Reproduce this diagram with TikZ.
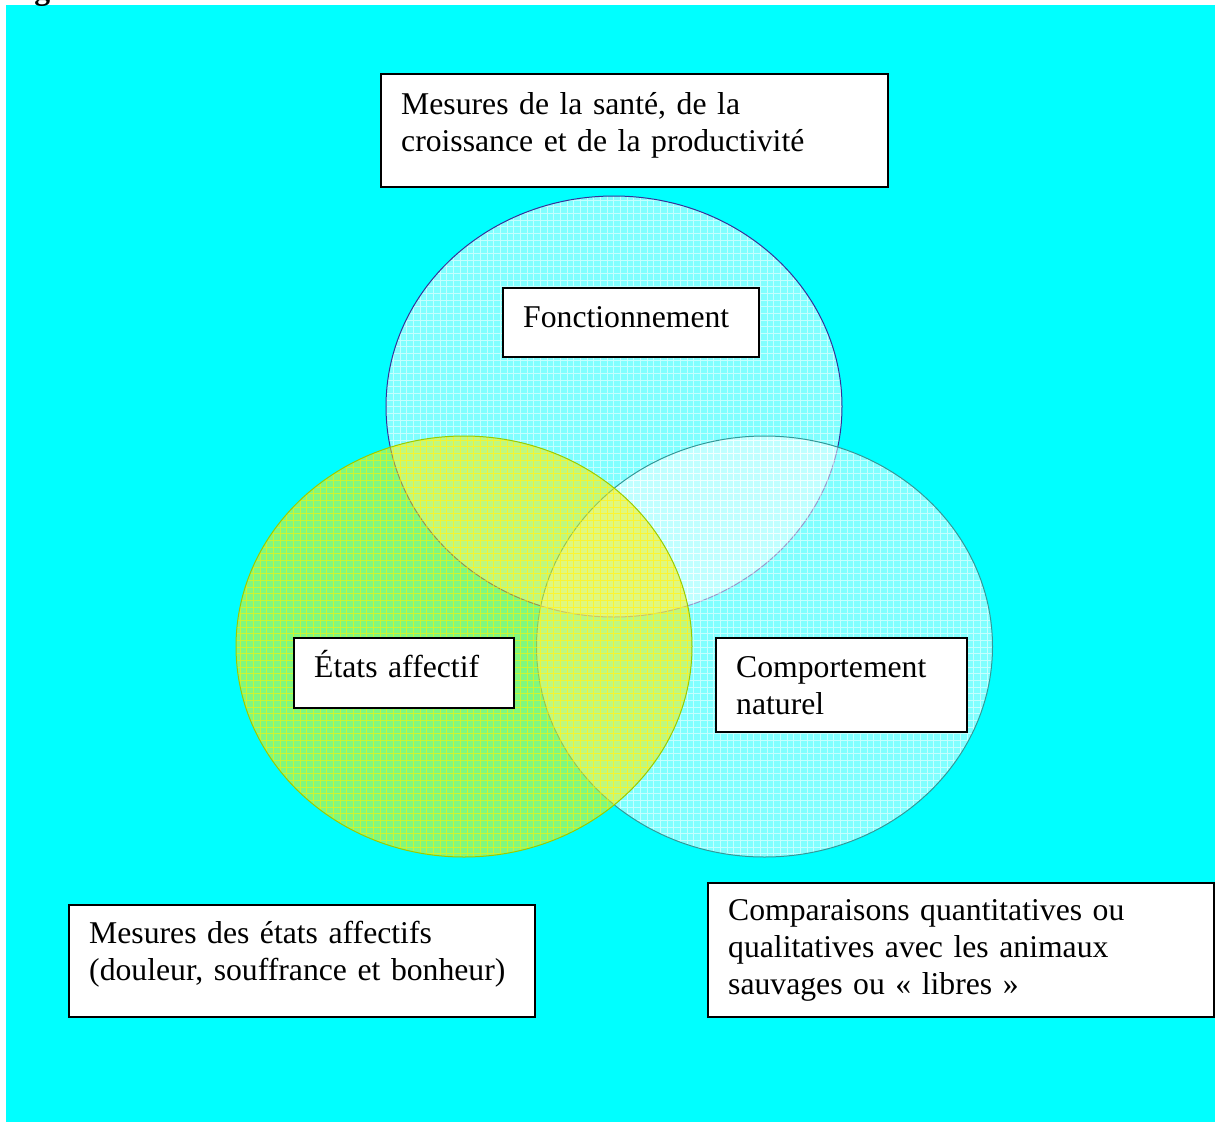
\documentclass[tikz,border=0pt]{standalone}
\usepackage{fontspec}
\setmainfont{Liberation Serif}
\definecolor{bgcyan}{RGB}{0,255,255}
\definecolor{topline}{RGB}{51,51,153}
\definecolor{rightline}{RGB}{51,153,153}
\definecolor{greenline}{RGB}{153,204,0}
\newcommand\mylblfont{\fontsize{31.7}{37}\selectfont\spaceskip=0.26em\relax}
\begin{document}
\begin{tikzpicture}[x=1pt,y=-1pt,
  lbl/.style={anchor=base west, inner sep=0pt, text width=520pt, align=left,
              font=\mylblfont},
  boxr/.style={draw=black, line width=1.8pt, fill=white, anchor=north west,
               inner sep=0pt},
  cyancirc/.style={fill=white, fill opacity=0.5},
  greencirc/.style={fill=yellow, fill opacity=0.5},
  wgrid/.style={draw=white, line width=0.8pt, opacity=0.55, xstep=6.67pt, ystep=6.67pt},
  ygrid/.style={draw=yellow, line width=0.8pt, opacity=0.6, xstep=6.67pt, ystep=6.67pt}]
\useasboundingbox (0,0) rectangle (1215,1122);
% background
\fill[bgcyan] (6,5) rectangle (1215,1122);
\begin{scope}
  \clip (0,0) rectangle (1215,1122);
  \node[anchor=base west, inner sep=0pt, font=\fontsize{31.7}{37}\selectfont\bfseries] (fig) at (6,-1) {Figure};
\end{scope}
% circle centres
\coordinate (ctop) at (614,406.5);
\coordinate (cright) at (764.5,646.5);
\coordinate (cleft) at (464,646.5);
% top circle
\fill[cyancirc] (ctop) ellipse [x radius=228pt, y radius=210.5pt];
\begin{scope}
  \clip (ctop) ellipse [x radius=228pt, y radius=210.5pt];
  \draw[wgrid] (380,625) grid (850,190);
\end{scope}
\draw[topline, line width=1pt] (ctop) ellipse [x radius=228pt, y radius=210.5pt];
% right circle
\fill[cyancirc] (cright) ellipse [x radius=228pt, y radius=210.5pt];
\begin{scope}
  \clip (cright) ellipse [x radius=228pt, y radius=210.5pt];
  \draw[wgrid] (530,865) grid (1000,430);
\end{scope}
\draw[rightline, line width=1pt] (cright) ellipse [x radius=228pt, y radius=210.5pt];
% left (green) circle
\fill[greencirc] (cleft) ellipse [x radius=228pt, y radius=210.5pt];
\begin{scope}
  \clip (cleft) ellipse [x radius=228pt, y radius=210.5pt];
  \draw[ygrid] (230,865) grid (700,430);
\end{scope}
\draw[greenline, line width=1pt] (cleft) ellipse [x radius=228pt, y radius=210.5pt];
% boxes
\node[boxr, minimum width=507pt, minimum height=113pt] (btop) at (380,73) {};
\node[lbl] (ttop) at (401,114) {Mesures de la santé, de la\\croissance et de la productivité};
\node[boxr, minimum width=256pt, minimum height=69pt] (bfonc) at (502,287) {};
\node[lbl] (tfonc) at (523,327) {Fonctionnement};
\node[boxr, minimum width=220pt, minimum height=70pt] (betat) at (293,637) {};
\node[lbl] (tetat) at (314,677) {États affectif};
\node[boxr, minimum width=251pt, minimum height=94pt] (bcomp) at (715,637) {};
\node[lbl] (tcomp) at (736,677) {Comportement\\naturel};
\node[boxr, minimum width=466pt, minimum height=112pt] (bbl) at (68,904) {};
\node[lbl] (tbl) at (89,943) {Mesures des états affectifs\\(douleur, souffrance et bonheur)};
\node[boxr, minimum width=506pt, minimum height=134pt] (bbr) at (707,882) {};
\node[lbl] (tbr) at (728,920) {Comparaisons quantitatives ou\\qualitatives avec les animaux\\sauvages ou «~libres~»};
\end{tikzpicture}
\end{document}
